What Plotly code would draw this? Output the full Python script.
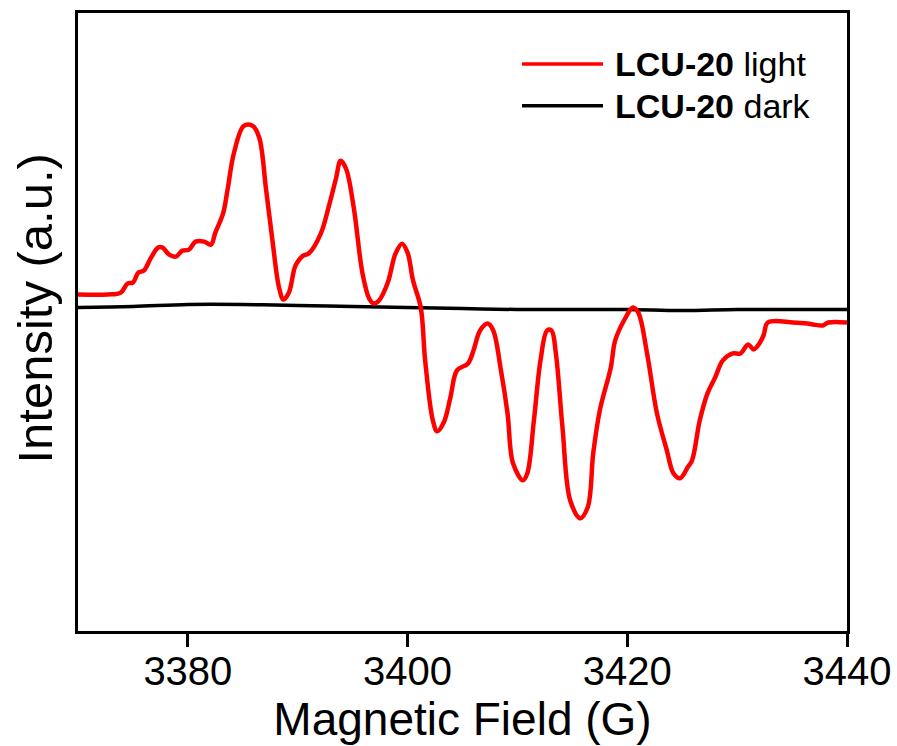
import plotly.graph_objects as go

# Magnetic field (G) and intensity (a.u.) for the light spectrum
light_field = [3370.0, 3372.7, 3373.9, 3374.5, 3375.0, 3375.5, 3376.0, 3376.6, 3377.3, 3377.7,
               3378.3, 3378.9, 3379.5, 3380.1, 3380.7, 3381.5, 3382.1, 3382.5, 3383.2, 3383.6,
               3384.2, 3385.1, 3385.9, 3386.5, 3387.1, 3387.7, 3388.3, 3388.7, 3389.2, 3389.8,
               3390.5, 3391.0, 3392.1, 3392.8, 3393.5, 3393.9, 3394.4, 3395.1, 3395.9, 3396.5,
               3396.9, 3397.4, 3398.2, 3398.9, 3399.5, 3400.0, 3400.5, 3401.2, 3401.6, 3402.3,
               3402.7, 3403.3, 3403.9, 3404.5, 3405.5, 3406.0, 3406.6, 3407.3, 3407.8, 3408.5,
               3409.1, 3409.6, 3410.5, 3410.9, 3411.5, 3412.1, 3412.7, 3413.1, 3413.5, 3414.1,
               3414.8, 3415.7, 3416.4, 3416.9, 3417.5, 3418.5, 3418.9, 3419.8, 3420.5, 3421.0,
               3421.8, 3422.7, 3423.6, 3424.2, 3424.8, 3425.5, 3425.9, 3426.6, 3427.3, 3428.0,
               3428.7, 3429.6, 3430.3, 3431.0, 3431.5, 3431.9, 3432.4, 3432.8, 3435.1, 3436.4,
               3436.9, 3437.8, 3438.3, 3440.0]
light_intensity = [14, 14, 16, 25, 26, 36, 38, 50, 61, 61,
                   54, 52, 58, 59, 67, 67, 64, 76, 95, 118,
                   156, 183, 183, 171, 121, 68, 21, 9, 16, 43,
                   53, 55, 75, 101, 131, 148, 140, 101, 35, 10,
                   5, 8, 26, 55, 65, 56, 28, 1, -52, -112,
                   -123, -114, -89, -62, -55, -42, -22, -15, -22, -62,
                   -105, -155, -172, -165, -112, -52, -22, -22, -45, -119,
                   -192, -210, -199, -145, -102, -59, -32, -10, 1, -4,
                   -45, -105, -142, -165, -170, -159, -152, -112, -85, -69,
                   -52, -45, -45, -36, -41, -37, -27, -14, -14, -15,
                   -16, -17, -14, -14]

# Dark spectrum (nearly flat)
dark_field = [3370, 3375, 3380, 3385, 3390, 3395, 3400, 3405, 3410, 3415, 3420, 3425, 3430, 3435, 3440]
dark_intensity = [1, 2, 4, 4, 3, 2, 1, 0, -1, -1, -1, -2, -1, -1, -1]

x_ticks = [3380, 3400, 3420, 3440]
series_names = ["<b>LCU-20</b> light", "<b>LCU-20</b> dark"]
series_colors = ["#ff0000", "#000000"]

FONT = "Arial, Liberation Sans, sans-serif"

fig = go.Figure()
fig.add_trace(go.Scatter(x=dark_field, y=dark_intensity, mode="lines",
                         line=dict(color=series_colors[1], width=3.5, shape="spline"),
                         name=series_names[1], showlegend=False))
fig.add_trace(go.Scatter(x=light_field, y=light_intensity, mode="lines",
                         line=dict(color=series_colors[0], width=4.5, shape="spline", smoothing=1.0),
                         name=series_names[0], showlegend=False))

# manual legend
leg_y = [0.9176, 0.8498]
for name, color, yy in zip(series_names, series_colors, leg_y):
    fig.add_shape(type="line", xref="paper", yref="paper", x0=0.5774, x1=0.6827, y0=yy, y1=yy,
                  line=dict(color=color, width=3.5))
    fig.add_annotation(xref="paper", yref="paper", x=0.6957, y=yy, xanchor="left", yanchor="middle",
                       text=name, showarrow=False, font=dict(family=FONT, size=34, color="black"))

# y axis title as annotation for exact placement
fig.add_annotation(xref="paper", yref="paper", x=-0.0559, y=0.5218, xanchor="center", yanchor="middle",
                   text="Intensity (a.u.)", textangle=-90, showarrow=False,
                   font=dict(family=FONT, size=49, color="black"))

fig.update_layout(
    width=897, height=746,
    margin=dict(l=78, r=50, t=13, b=115),
    paper_bgcolor="white", plot_bgcolor="white",
    font=dict(family=FONT, color="black"),
    showlegend=False,
)
fig.update_xaxes(range=[3370, 3440], tickvals=x_ticks, ticks="outside", ticklen=13, tickwidth=2.5,
                 tickcolor="black", showline=True, linecolor="black", linewidth=3, mirror=True,
                 showgrid=False, zeroline=False, tickfont=dict(size=40, family=FONT), automargin=False,
                 ticklabelstandoff=-10,
                 title=dict(text="Magnetic Field (G)", font=dict(size=46, family=FONT), standoff=8))
fig.update_yaxes(range=[-323, 296], showticklabels=False, ticks="", showline=True, linecolor="black",
                 linewidth=3, mirror=True, showgrid=False, zeroline=False, automargin=False)

fig.write_html("out.html")
